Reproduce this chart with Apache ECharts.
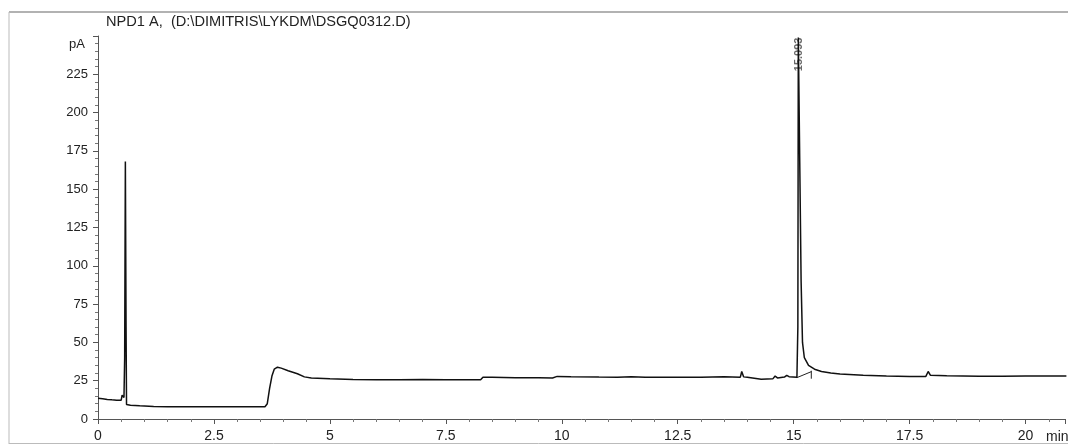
<!DOCTYPE html>
<html><head><meta charset="utf-8">
<script src="https://cdn.jsdelivr.net/npm/echarts@6/dist/echarts.min.js"></script>
<style>html,body{margin:0;padding:0;background:#fff}#c{width:1068px;height:445px}</style>
</head><body><div id="c"></div>
<script>
const titleText = 'NPD1 A,  (D:\\DIMITRIS\\LYKDM\\DSGQ0312.D)';
const yUnit = 'pA';
const xUnit = 'min';
const peakLabel = '15.093';
const peakTime = 15.12;
const peakTop = 249;

const timeMin = [0,0.1,0.2,0.3,0.4,0.5,0.52,0.54,0.56,0.575,0.59,0.605,0.615,0.7,0.9,1.2,1.5,2.0,2.5,3.0,3.4,3.6,3.65,3.7,3.75,3.8,3.87,3.95,4.1,4.3,4.45,4.6,5.0,5.5,6.0,6.5,7.0,7.5,8.0,8.25,8.3,8.5,9.0,9.5,9.8,9.9,10.2,10.8,11.2,11.5,11.8,12.5,13.0,13.5,13.85,13.88,13.92,14.0,14.3,14.55,14.6,14.65,14.8,14.85,14.9,15.07,15.09,15.1,15.14,15.16,15.19,15.23,15.32,15.45,15.6,15.8,16.0,16.5,17.0,17.5,17.85,17.9,17.95,18.3,19.0,19.5,20.0,20.88];
const signalPA = [13.5,13.2,12.8,12.5,12.3,12.3,15.5,16,14,40,168,60,9.5,9.0,8.6,8.2,8.0,8.0,8.0,8.0,8.0,8.0,10,20,28,32.5,33.8,33.2,31.5,29.5,27.5,26.8,26.2,25.8,25.7,25.6,25.8,25.7,25.6,25.6,27.2,27.2,27.0,27.0,26.8,27.8,27.6,27.4,27.3,27.6,27.3,27.2,27.2,27.5,27.3,31,27.5,27.2,26.0,26.2,28.0,26.8,27.4,28.5,27.6,27.3,60,249,249,90,50,40,35,32.5,31,30,29.3,28.6,28.0,27.8,27.8,31,28.5,28.2,27.9,27.9,28.0,28.0];

const baselineTime = [15.07, 15.38];
const baselinePA = [27.0, 30.9];
const dropTime = [15.38, 15.38];
const dropPA = [26.3, 31.5];

const xTicks = [0,2.5,5,7.5,10,12.5,15,17.5,20];
const yTicks = [0,25,50,75,100,125,150,175,200,225];

const zip = (a,b) => a.map((v,i)=>[v,b[i]]);
const chart = echarts.init(document.getElementById('c'), null, {renderer:'canvas'});
const font = 'Liberation Sans, Arial, sans-serif';
chart.setOption({
  animation:false,
  backgroundColor:'#fff',
  grid:{left:98, right:0, top:36, bottom:26, containLabel:false},
  xAxis:{type:'value', min:0, max:20.85, interval:2.5,
    axisLine:{show:true, onZero:false, lineStyle:{color:'#555', width:1}},
    axisTick:{show:true, length:5, inside:false, lineStyle:{color:'#555'}},
    minorTick:{show:true, splitNumber:5, length:3, lineStyle:{color:'#777'}},
    splitLine:{show:false},
    axisLabel:{color:'#222', fontFamily:font, fontSize:14, margin:10,
      formatter: v => xTicks.includes(v) ? String(v) : ''}
  },
  yAxis:{type:'value', min:0, max:250, interval:25,
    axisLine:{show:true, onZero:false, lineStyle:{color:'#555', width:1}},
    axisTick:{show:true, length:5, lineStyle:{color:'#555'}},
    minorTick:{show:true, splitNumber:5, length:3, lineStyle:{color:'#777'}},
    splitLine:{show:false},
    axisLabel:{color:'#222', fontFamily:font, fontSize:13, margin:10,
      formatter: v => yTicks.includes(v) ? String(v) : ''}
  },
  title:{text:titleText, left:106, top:14, padding:0,
    textStyle:{fontFamily:font, fontSize:14.6, fontWeight:'normal', color:'#222'}},
  graphic:[
    {type:'line', shape:{x1:9,y1:12,x2:1068,y2:12}, style:{stroke:'#999', lineWidth:1.5}, silent:true},
    {type:'line', shape:{x1:9,y1:12,x2:9,y2:444}, style:{stroke:'#bbb', lineWidth:1}, silent:true},
    {type:'line', shape:{x1:9,y1:443.5,x2:1068,y2:443.5}, style:{stroke:'#bbb', lineWidth:1}, silent:true},
    {type:'text', right:983, top:38, style:{text:yUnit, fill:'#222', font:'13px Liberation Sans, Arial, sans-serif'}},
    {type:'text', left:1046, top:430, style:{text:xUnit, fill:'#222', font:'14px Liberation Sans, Arial, sans-serif'}}
  ],
  series:[
    {type:'line', data:zip(timeMin, signalPA), symbol:'none', clip:false,
      lineStyle:{color:'#111', width:1.5}},
    {type:'line', data:zip(baselineTime, baselinePA), symbol:'none',
      lineStyle:{color:'#222', width:1}},
    {type:'line', data:zip(dropTime, dropPA), symbol:'none',
      lineStyle:{color:'#222', width:1}},
    {type:'scatter', data:[[peakTime, peakTop]], symbolSize:0, clip:false,
      label:{show:true, formatter:peakLabel, position:'inside', rotate:90, align:'right', verticalAlign:'middle',
        fontFamily:font, fontSize:11, fontWeight:'bold', color:'#444'}}
  ]
});
</script></body></html>
